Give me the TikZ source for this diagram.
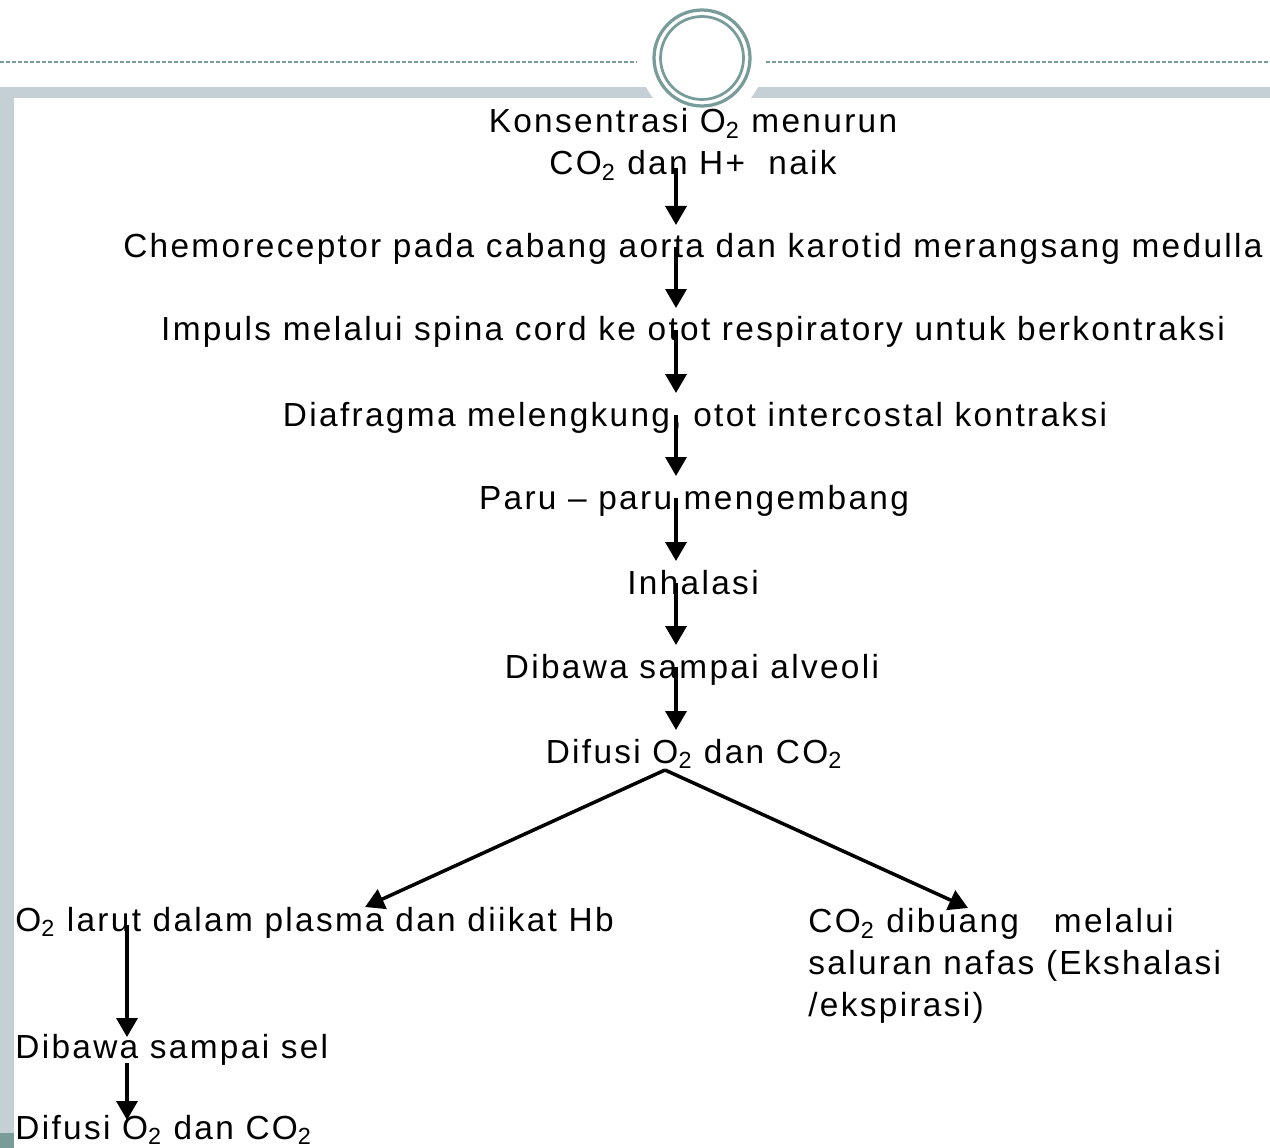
\documentclass[tikz,border=0pt]{standalone}
\usepackage{fontspec}
\setmainfont{Liberation Sans}[LetterSpace=7.0]
\usetikzlibrary{arrows.meta,calc}

\definecolor{barGray}{HTML}{C5D0D6}
\definecolor{ringTeal}{HTML}{789C9A}

\begin{document}
\begin{tikzpicture}[x=0.02cm,y=-0.02cm,
    steptext/.style={inner sep=0pt, font=\fontsize{19}{23.9}\selectfont},
    flow/.style={-{Triangle[width=0.42cm,length=0.38cm]}, line width=0.07cm}]
\useasboundingbox (0,0) rectangle (1270,1148);

% frame
\draw[ringTeal, line width=0.04cm, dash pattern=on 0.08cm off 0.04cm]
    (0,62) -- (636,62) (766,62) -- (1270,62);
\fill[barGray] (0,87) rectangle (1270,98);
\fill[barGray] (0,87) rectangle (14,1148);
\fill[ringTeal] (0,1133) rectangle (14,1148);
\fill[white] (702,58) circle[radius=1.26cm];
\draw[ringTeal, line width=0.065cm] (702,58) circle[radius=0.96cm];
\draw[ringTeal, line width=0.055cm] (702,58) circle[radius=0.83cm];

% steps
\node[steptext, anchor=north, align=center] (konsen) at (693,108)
    {Konsentrasi O\textsubscript{2} menurun\\CO\textsubscript{2} dan H+\ \ naik};
\node[steptext, anchor=base] (chemo) at (693,258)
    {Chemoreceptor pada cabang aorta dan karotid merangsang medulla};
\node[steptext, anchor=base] (impuls) at (693,341)
    {Impuls melalui spina cord ke otot respiratory untuk berkontraksi};
\node[steptext, anchor=base] (diafragma) at (695,426)
    {Diafragma melengkung, otot intercostal kontraksi};
\node[steptext, anchor=base] (paru) at (694,509) {Paru – paru mengembang};
\node[steptext, anchor=base] (inhalasi) at (693,594) {Inhalasi};
\node[steptext, anchor=base] (alveoli) at (692,678) {Dibawa sampai alveoli};
\node[steptext, anchor=base] (difusi) at (694,763)
    {Difusi O\textsubscript{2} dan CO\textsubscript{2}};

% branches
\node[steptext, anchor=base west] (larut) at (15,931)
    {O\textsubscript{2} larut dalam plasma dan diikat Hb};
\node[steptext, anchor=north west, align=left] (buang) at (808,908)
    {CO\textsubscript{2} dibuang\ \ \ melalui\\saluran nafas (Ekshalasi\\/ekspirasi)};
\node[steptext, anchor=base west] (sel) at (15,1058) {Dibawa sampai sel};
\node[steptext, anchor=base west] (difsel) at (15,1139)
    {Difusi O\textsubscript{2} dan CO\textsubscript{2}};

% arrows
\coordinate (ax) at (676,0);
\coordinate (bx) at (127,0);
\draw[flow] ($(konsen.south -| ax)+(0,-13)$) -- ($(chemo.base -| ax)+(0,-33)$);
\foreach \from/\to in {chemo/impuls,impuls/diafragma,diafragma/paru,
    paru/inhalasi,inhalasi/alveoli,alveoli/difusi}
\draw[flow] ($(\from.base -| ax)+(0,-11)$) -- ($(\to.base -| ax)+(0,-33)$);

\coordinate (split) at ($(difusi.base)+(-29,7)$);
\draw[flow] (split) -- ($(larut.base west)+(350,-24)$);
\draw[flow] (split) -- ($(buang.north west)+(160,0)$);

\draw[flow] ($(larut.base -| bx)+(0,-6)$) -- ($(sel.base -| bx)+(0,-21)$);
\draw[flow] ($(sel.base -| bx)+(0,5)$) -- ($(difsel.base -| bx)+(0,-19)$);
\end{tikzpicture}
\end{document}
